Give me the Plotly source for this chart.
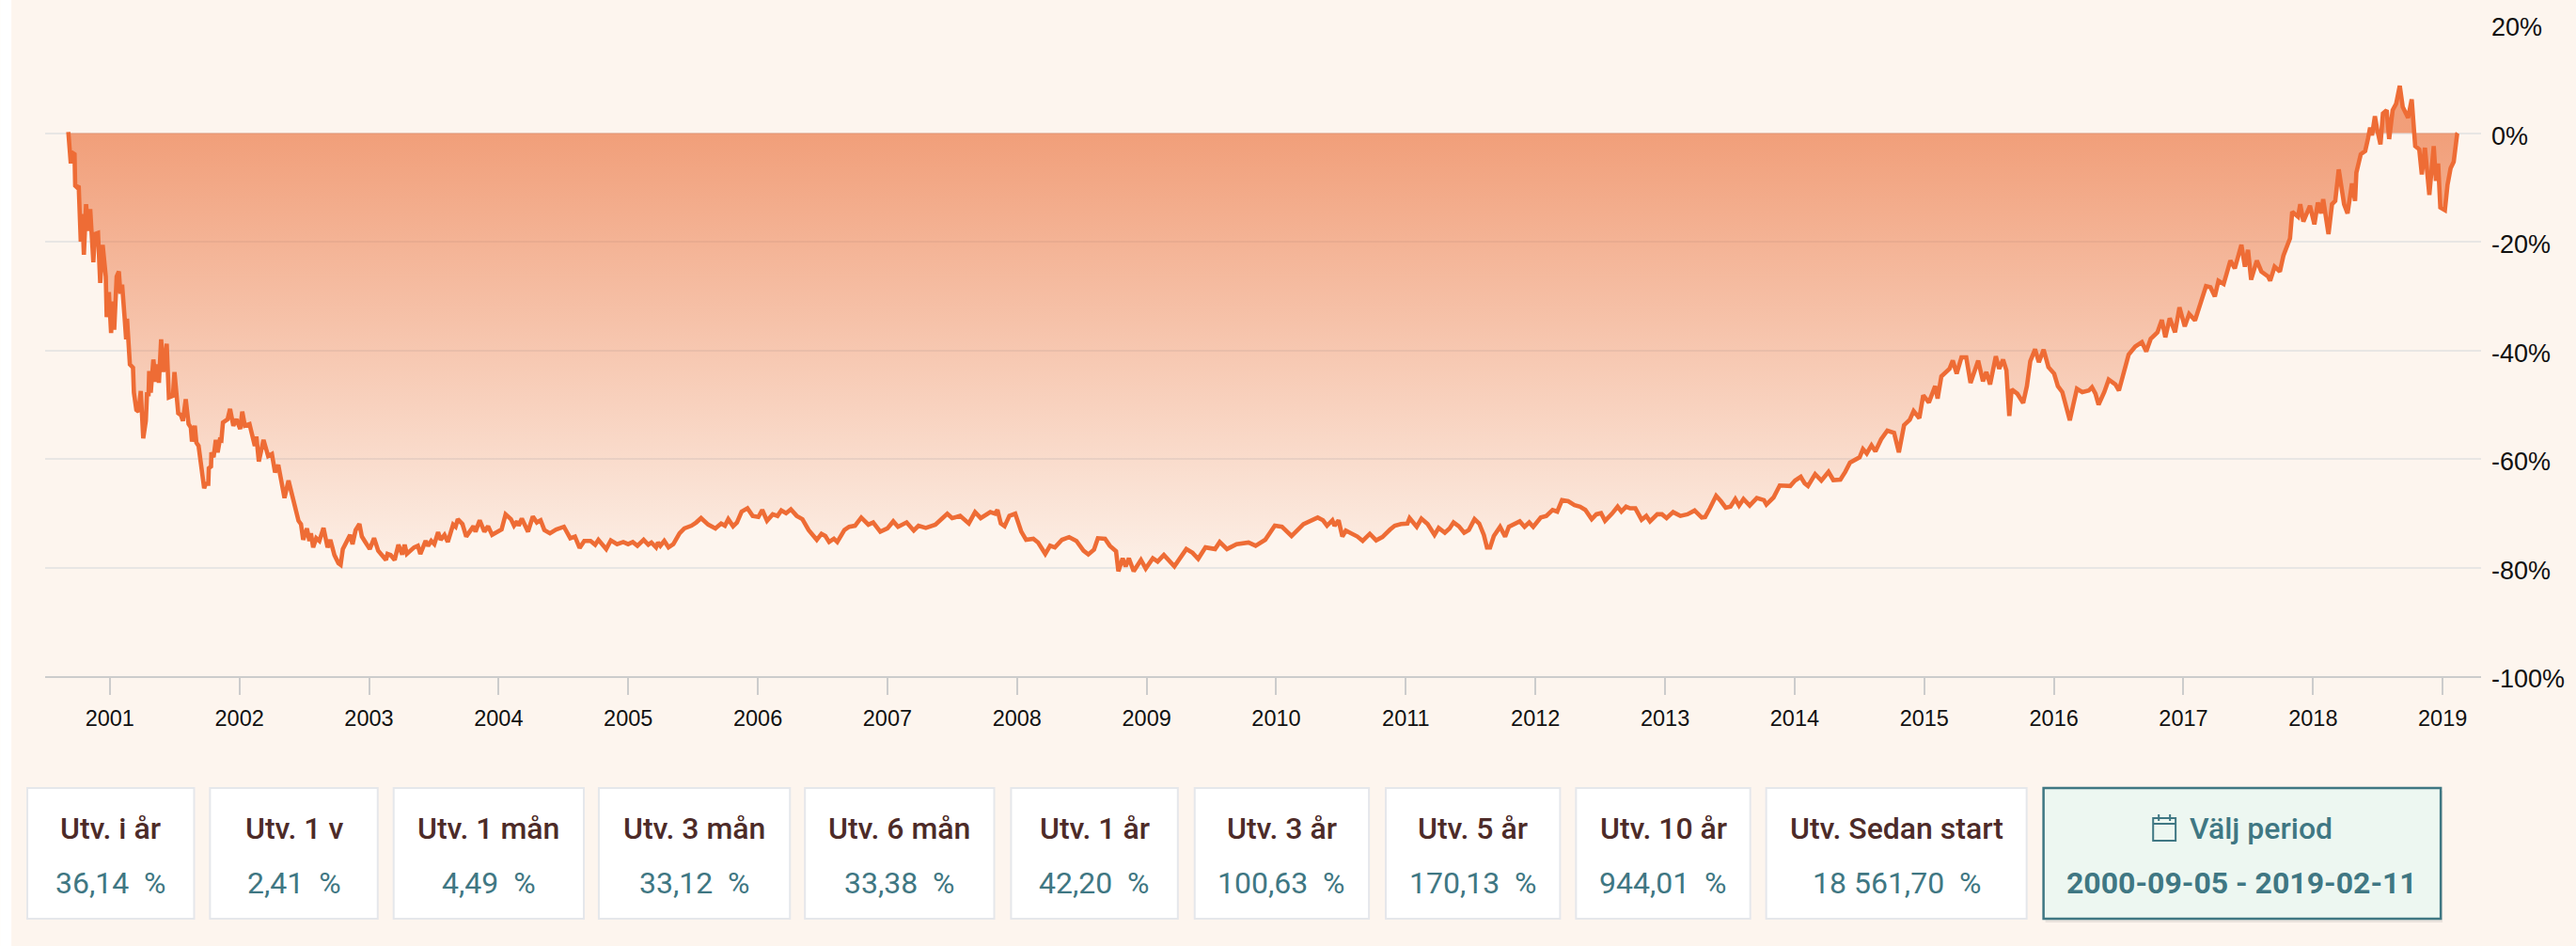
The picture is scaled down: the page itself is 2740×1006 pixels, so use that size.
import plotly.graph_objects as go

# x is decimal year, y is development in percent
years = [
    2000.680, 2000.687, 2000.699, 2000.709, 2000.728, 2000.733, 2000.747, 2000.760, 2000.769, 2000.776,
    2000.788, 2000.800, 2000.817, 2000.832, 2000.849, 2000.861, 2000.873, 2000.885, 2000.909, 2000.926,
    2000.945, 2000.969, 2000.976, 2000.993, 2001.010, 2001.025, 2001.034, 2001.053, 2001.070, 2001.082,
    2001.095, 2001.114, 2001.126, 2001.133, 2001.143, 2001.155, 2001.179, 2001.186, 2001.205, 2001.222,
    2001.239, 2001.258, 2001.278, 2001.287, 2001.299, 2001.304, 2001.316, 2001.336, 2001.355, 2001.367,
    2001.379, 2001.396, 2001.413, 2001.439, 2001.456, 2001.487, 2001.499, 2001.519, 2001.528, 2001.548,
    2001.564, 2001.586, 2001.608, 2001.625, 2001.634, 2001.656, 2001.668, 2001.685, 2001.697, 2001.716,
    2001.728, 2001.740, 2001.760, 2001.764, 2001.781, 2001.784, 2001.801, 2001.818, 2001.832, 2001.849,
    2001.861, 2001.873, 2001.909, 2001.928, 2001.953, 2001.977, 2002.006, 2002.022, 2002.042, 2002.078,
    2002.102, 2002.119, 2002.131, 2002.150, 2002.186, 2002.222, 2002.251, 2002.275, 2002.300, 2002.331,
    2002.348, 2002.379, 2002.408, 2002.432, 2002.456, 2002.475, 2002.492, 2002.521, 2002.540, 2002.552,
    2002.569, 2002.593, 2002.617, 2002.649, 2002.680, 2002.702, 2002.733, 2002.764, 2002.781, 2002.798,
    2002.830, 2002.854, 2002.873, 2002.897, 2002.926, 2002.945, 2002.974, 2003.006, 2003.039, 2003.071,
    2003.099, 2003.131, 2003.143, 2003.167, 2003.198, 2003.227, 2003.256, 2003.275, 2003.292, 2003.348,
    2003.377, 2003.396, 2003.437, 2003.456, 2003.480, 2003.504, 2003.533, 2003.553, 2003.582, 2003.608,
    2003.649, 2003.668, 2003.685, 2003.721, 2003.750, 2003.806, 2003.822, 2003.854, 2003.890, 2003.919,
    2003.950, 2004.023, 2004.054, 2004.095, 2004.119, 2004.143, 2004.155, 2004.179, 2004.227, 2004.264,
    2004.295, 2004.324, 2004.353, 2004.396, 2004.444, 2004.504, 2004.553, 2004.589, 2004.625, 2004.661,
    2004.709, 2004.745, 2004.770, 2004.830, 2004.866, 2004.914, 2004.962, 2004.999, 2005.035, 2005.071,
    2005.119, 2005.155, 2005.179, 2005.215, 2005.230, 2005.248, 2005.278, 2005.311, 2005.348, 2005.396,
    2005.433, 2005.488, 2005.525, 2005.562, 2005.617, 2005.673, 2005.717, 2005.746, 2005.772, 2005.809,
    2005.839, 2005.875, 2005.920, 2005.960, 2006.004, 2006.034, 2006.071, 2006.115, 2006.152, 2006.181,
    2006.218, 2006.255, 2006.300, 2006.344, 2006.392, 2006.455, 2006.491, 2006.521, 2006.550, 2006.587,
    2006.613, 2006.668, 2006.705, 2006.750, 2006.798, 2006.853, 2006.890, 2006.945, 2007.000, 2007.045,
    2007.082, 2007.148, 2007.203, 2007.240, 2007.296, 2007.370, 2007.425, 2007.462, 2007.499, 2007.561,
    2007.628, 2007.676, 2007.720, 2007.775, 2007.794, 2007.831, 2007.849, 2007.875, 2007.904, 2007.941,
    2007.986, 2008.033, 2008.070, 2008.126, 2008.163, 2008.218, 2008.255, 2008.292, 2008.347, 2008.402,
    2008.458, 2008.513, 2008.550, 2008.594, 2008.624, 2008.679, 2008.716, 2008.764, 2008.782, 2008.815,
    2008.838, 2008.863, 2008.900, 2008.956, 2008.993, 2009.048, 2009.085, 2009.133, 2009.214, 2009.306,
    2009.354, 2009.398, 2009.454, 2009.528, 2009.564, 2009.620, 2009.694, 2009.786, 2009.841, 2009.915,
    2009.989, 2010.044, 2010.118, 2010.210, 2010.265, 2010.320, 2010.361, 2010.392, 2010.433, 2010.450,
    2010.481, 2010.510, 2010.537, 2010.578, 2010.626, 2010.667, 2010.722, 2010.771, 2010.819, 2010.879,
    2010.915, 2010.963, 2011.012, 2011.029, 2011.084, 2011.120, 2011.168, 2011.221, 2011.253, 2011.301,
    2011.337, 2011.368, 2011.409, 2011.450, 2011.486, 2011.530, 2011.566, 2011.602, 2011.626, 2011.650,
    2011.679, 2011.727, 2011.766, 2011.795, 2011.879, 2011.916, 2011.952, 2011.983, 2012.041, 2012.084,
    2012.132, 2012.168, 2012.205, 2012.253, 2012.301, 2012.344, 2012.385, 2012.434, 2012.470, 2012.506,
    2012.537, 2012.590, 2012.634, 2012.663, 2012.699, 2012.730, 2012.771, 2012.819, 2012.855, 2012.884,
    2012.940, 2012.976, 2013.012, 2013.062, 2013.118, 2013.173, 2013.228, 2013.283, 2013.309, 2013.346,
    2013.394, 2013.431, 2013.468, 2013.505, 2013.542, 2013.571, 2013.605, 2013.653, 2013.708, 2013.763,
    2013.782, 2013.837, 2013.885, 2013.966, 2014.003, 2014.047, 2014.077, 2014.103, 2014.158, 2014.206,
    2014.261, 2014.298, 2014.353, 2014.390, 2014.427, 2014.501, 2014.527, 2014.556, 2014.593, 2014.623,
    2014.667, 2014.715, 2014.767, 2014.804, 2014.844, 2014.888, 2014.918, 2014.962, 2014.992, 2015.036,
    2015.084, 2015.103, 2015.132, 2015.195, 2015.220, 2015.250, 2015.287, 2015.324, 2015.357, 2015.416,
    2015.453, 2015.479, 2015.508, 2015.552, 2015.578, 2015.608, 2015.634, 2015.656, 2015.674, 2015.718,
    2015.763, 2015.792, 2015.818, 2015.855, 2015.884, 2015.921, 2015.958, 2016.002, 2016.031, 2016.065,
    2016.092, 2016.123, 2016.150, 2016.178, 2016.219, 2016.270, 2016.294, 2016.321, 2016.345, 2016.389,
    2016.423, 2016.475, 2016.502, 2016.543, 2016.577, 2016.628, 2016.679, 2016.713, 2016.747, 2016.799,
    2016.833, 2016.860, 2016.894, 2016.935, 2016.969, 2017.010, 2017.044, 2017.089, 2017.140, 2017.174,
    2017.208, 2017.242, 2017.270, 2017.310, 2017.362, 2017.396, 2017.447, 2017.474, 2017.498, 2017.522,
    2017.566, 2017.601, 2017.652, 2017.669, 2017.703, 2017.744, 2017.771, 2017.822, 2017.839, 2017.884,
    2017.901, 2017.925, 2017.976, 2018.010, 2018.037, 2018.061, 2018.078, 2018.095, 2018.119, 2018.146,
    2018.171, 2018.198, 2018.239, 2018.266, 2018.300, 2018.324, 2018.334, 2018.368, 2018.402, 2018.424,
    2018.440, 2018.455, 2018.477, 2018.496, 2018.520, 2018.539, 2018.568, 2018.587, 2018.614, 2018.641,
    2018.669, 2018.692, 2018.733, 2018.761, 2018.778, 2018.788, 2018.819, 2018.839, 2018.863, 2018.897,
    2018.931, 2018.948, 2018.965, 2018.982, 2019.017, 2019.037, 2019.061, 2019.085, 2019.112, 2019.115,
]
values = [
    0.2, -3.0, -5.6, -3.6, -3.9, -9.7, -10.0, -9.7, -13.7, -20.0,
    -14.9, -22.4, -13.1, -18.0, -14.0, -18.0, -23.8, -18.6, -18.4, -27.6,
    -20.6, -26.4, -33.9, -29.3, -36.8, -31.0, -36.2, -26.4, -25.5, -29.6,
    -27.9, -33.9, -38.0, -34.2, -38.0, -42.6, -43.2, -47.8, -51.0, -51.3,
    -47.5, -56.2, -53.0, -48.1, -48.1, -43.8, -47.8, -41.7, -45.8, -42.6,
    -46.0, -38.0, -44.0, -38.8, -48.7, -48.4, -44.0, -48.4, -51.6, -51.9,
    -53.0, -49.0, -53.6, -54.2, -56.8, -53.9, -57.0, -57.6, -60.0, -62.3,
    -65.4, -64.6, -64.6, -61.7, -61.4, -58.8, -59.7, -56.5, -58.8, -56.5,
    -56.6, -53.3, -52.7, -50.8, -53.9, -52.7, -54.5, -51.3, -53.9, -53.6,
    -55.9, -57.6, -55.9, -60.5, -56.5, -59.5, -59.1, -62.5, -61.1, -65.1,
    -67.2, -64.0, -67.1, -69.1, -71.4, -72.0, -74.9, -72.8, -75.1, -73.7,
    -76.3, -74.6, -75.1, -72.7, -76.3, -74.9, -77.7, -79.2, -79.5, -76.6,
    -75.1, -74.0, -75.7, -73.1, -72.0, -74.3, -75.4, -76.6, -74.6, -76.9,
    -77.7, -78.6, -77.5, -77.7, -78.6, -75.8, -77.6, -75.8, -77.5, -76.3,
    -76.0, -77.5, -75.1, -76.0, -75.1, -75.7, -73.5, -74.9, -74.0, -75.3,
    -72.1, -72.5, -71.1, -72.0, -74.3, -72.4, -73.4, -71.3, -73.4, -72.4,
    -74.0, -73.0, -70.2, -71.1, -72.3, -71.5, -72.3, -71.0, -73.4, -70.6,
    -71.7, -71.3, -73.1, -73.7, -73.0, -72.5, -74.6, -74.3, -76.4, -75.1,
    -75.1, -75.8, -74.9, -76.6, -75.0, -75.7, -75.3, -75.7, -75.3, -76.0,
    -74.9, -75.8, -75.4, -76.3, -75.4, -76.0, -75.1, -76.3, -75.7, -73.7,
    -72.8, -72.3, -71.7, -70.9, -72.1, -72.8, -71.9, -72.3, -71.1, -72.4,
    -71.7, -69.7, -69.1, -70.5, -70.7, -69.4, -71.4, -70.2, -70.5, -69.5,
    -70.0, -69.3, -70.5, -71.1, -73.1, -74.9, -73.8, -74.2, -75.3, -74.7,
    -75.3, -73.1, -72.5, -72.3, -70.8, -72.1, -71.7, -73.4, -72.8, -71.5,
    -72.5, -71.7, -73.2, -72.3, -72.7, -72.1, -70.9, -70.1, -70.9, -70.5,
    -71.9, -69.8, -70.9, -70.2, -69.8, -70.1, -69.4, -71.9, -72.4, -70.5,
    -70.1, -73.4, -74.9, -74.7, -75.4, -77.5, -76.0, -76.3, -74.9, -74.4,
    -75.1, -76.9, -77.6, -76.7, -74.6, -74.7, -76.0, -77.0, -80.7, -78.3,
    -79.8, -78.3, -80.7, -78.6, -80.2, -78.3, -78.9, -77.7, -79.8, -76.6,
    -77.3, -78.4, -76.3, -76.6, -75.3, -76.6, -75.7, -75.4, -76.0, -74.9,
    -72.3, -72.5, -74.2, -72.0, -71.3, -70.8, -71.3, -72.3, -71.3, -72.3,
    -71.3, -74.3, -73.2, -73.7, -74.3, -75.1, -73.8, -75.0, -74.4, -73.0,
    -72.3, -72.0, -71.9, -70.9, -72.5, -71.0, -72.0, -74.0, -72.7, -73.6,
    -72.8, -71.7, -72.4, -73.6, -73.1, -71.1, -71.9, -74.0, -76.3, -76.3,
    -74.2, -72.5, -74.3, -72.5, -71.5, -72.5, -71.7, -72.5, -70.8, -70.5,
    -69.4, -69.7, -67.6, -67.8, -68.5, -68.8, -69.4, -71.1, -70.2, -70.0,
    -71.4, -70.1, -68.8, -69.7, -68.8, -69.1, -69.1, -71.2, -70.5, -71.5,
    -70.2, -70.2, -70.9, -69.8, -70.5, -70.2, -69.5, -70.8, -70.7, -69.1,
    -66.8, -67.8, -69.0, -68.8, -67.4, -68.6, -67.4, -68.6, -67.2, -67.6,
    -68.4, -67.1, -64.9, -65.0, -64.0, -63.3, -64.5, -65.0, -62.8, -64.0,
    -62.4, -63.9, -63.8, -62.4, -60.7, -59.7, -58.2, -59.0, -57.5, -58.6,
    -56.4, -54.8, -55.2, -58.8, -53.8, -52.8, -51.2, -52.5, -48.3, -49.6,
    -46.6, -48.9, -44.8, -43.4, -41.9, -44.3, -41.3, -41.3, -46.0, -41.9,
    -45.7, -44.0, -46.3, -41.1, -43.4, -41.7, -43.7, -52.1, -47.2, -48.0,
    -49.7, -46.6, -42.0, -39.8, -42.2, -39.9, -43.1, -44.3, -46.6, -47.7,
    -50.0, -52.9, -50.0, -47.1, -47.7, -47.4, -46.8, -48.0, -50.0, -47.7,
    -45.4, -46.3, -47.4, -43.7, -40.8, -39.3, -38.5, -40.2, -37.9, -36.7,
    -34.4, -37.6, -34.1, -36.7, -32.1, -35.6, -33.3, -34.5, -30.4, -28.2,
    -28.4, -30.1, -27.2, -27.8, -23.5, -24.9, -20.6, -24.6, -21.5, -27.0,
    -23.5, -25.5, -26.4, -27.2, -24.6, -25.5, -22.6, -19.4, -14.5, -15.4,
    -13.1, -16.3, -13.4, -16.8, -12.8, -14.8, -12.2, -14.8, -18.6, -13.1,
    -12.5, -6.7, -13.1, -14.8, -9.3, -12.5, -7.3, -3.9, -3.3, -1.0,
    1.0, -0.4, 3.1, 0.5, -2.1, 3.6, 4.2, -1.1, 4.2, 5.4,
    8.7, 4.8, 2.8, 6.2, 0.2, -2.4, -3.0, -7.6, -2.7, -11.4,
    -2.4, -8.8, -5.6, -13.7, -14.2, -9.6, -6.5, -5.3, -0.1, 0.0,
]

year_ticks = list(range(2001, 2020))
pct_ticks = [-100, -80, -60, -40, -20, 0, 20]
pct_labels = ["-100%", "-80%", "-60%", "-40%", "-20%", "0%", "20%"]

card_titles = ["Utv. i år", "Utv. 1 v", "Utv. 1 mån", "Utv. 3 mån", "Utv. 6 mån", "Utv. 1 år",
               "Utv. 3 år", "Utv. 5 år", "Utv. 10 år", "Utv. Sedan start"]
card_values = ["36,14", "2,41", "4,49", "33,12", "33,38", "42,20",
               "100,63", "170,13", "944,01", "18 561,70"]
period_title = "Välj period"
period_range = "2000-09-05 - 2019-02-11"

WIDTH, HEIGHT = 2740, 1006
PLOT_L, PLOT_R, PLOT_T, PLOT_B = 48, 2648, 26, 719

ORANGE = "#EE6C35"
TEAL = "#3F7783"
BROWN = "#4D2B28"
BG = "#FDF5EE"
FONT_UI = "Roboto"
FONT_AXIS = "Liberation Sans"

# left/right edge of the boxes under the chart
card_edges = [(29, 207), (224, 403), (420, 623), (639, 843), (859, 1061),
              (1079, 1257), (1275, 1461), (1479, 1665), (1682, 1868), (1885, 2163)]
CARD_TOP, CARD_BOTTOM = 838, 977
TITLE_Y, VALUE_Y = 881, 939


def px(x):
    return (x - PLOT_L) / (PLOT_R - PLOT_L)


def py(y):
    return (PLOT_B - y) / (PLOT_B - PLOT_T)


def box(x0, y0, x1, y1, **kw):
    return dict(type="rect", xref="paper", yref="paper", x0=px(x0), x1=px(x1), y0=py(y1), y1=py(y0), **kw)


def label(x, y, text, color, size=32, weight=400):
    return dict(xref="paper", yref="paper", x=px(x), y=py(y), text=text, showarrow=False,
                xanchor="center", yanchor="middle",
                font=dict(family=FONT_UI, size=size, color=color, weight=weight))


fig = go.Figure()
fig.add_trace(go.Scatter(
    x=years, y=values, mode="lines",
    line=dict(color=ORANGE, width=4.6),
    fill="tozeroy",
    fillgradient=dict(type="vertical", start=-85, stop=0,
                      colorscale=[[0, "rgba(234,108,53,0)"], [1, "rgba(234,108,53,0.63)"]]),
    hoverinfo="skip",
))

shapes = [dict(type="rect", xref="paper", yref="paper", x0=px(0), x1=px(12), y0=py(HEIGHT), y1=py(0),
               fillcolor="white", line_width=0)]
annotations = []

for (x0, x1), title, value in zip(card_edges, card_titles, card_values):
    shapes.append(box(x0, CARD_TOP, x1, CARD_BOTTOM, fillcolor="white", line=dict(color="#E5E7EB", width=2)))
    mid = (x0 + x1) / 2
    annotations.append(label(mid, TITLE_Y, title, BROWN, weight=500))
    annotations.append(label(mid, VALUE_Y, value + "\u00a0\u00a0%", TEAL))

# the highlighted period box, with a small calendar icon
shapes.append(box(2183, 841, 2607, 981, fillcolor="rgba(0,0,0,0.07)", line_width=0))
shapes.append(box(2181, 838, 2605, 977, fillcolor="#EDF7F1", line=dict(color=TEAL, width=2.5)))
icon = dict(color=TEAL, width=2)
shapes.append(box(2298, 870, 2322, 894, line=icon, fillcolor="rgba(0,0,0,0)"))
shapes.append(dict(type="line", xref="paper", yref="paper", x0=px(2298), x1=px(2322), y0=py(876), y1=py(876), line=icon))
shapes.append(dict(type="line", xref="paper", yref="paper", x0=px(2304), x1=px(2304), y0=py(866), y1=py(873), line=icon))
shapes.append(dict(type="line", xref="paper", yref="paper", x0=px(2316), x1=px(2316), y0=py(866), y1=py(873), line=icon))
annotations.append(label(2413, TITLE_Y, period_title, TEAL, weight=500))
annotations.append(label(2393, VALUE_Y, period_range, TEAL, weight=700))

fig.update_layout(
    width=WIDTH, height=HEIGHT,
    margin=dict(l=PLOT_L, r=WIDTH - PLOT_R, t=PLOT_T, b=HEIGHT - PLOT_B, pad=0),
    paper_bgcolor=BG, plot_bgcolor=BG,
    showlegend=False,
    shapes=shapes, annotations=annotations,
    xaxis=dict(
        range=[2000.501, 2019.296],
        tickvals=year_ticks, tickformat="d",
        showgrid=False, zeroline=False,
        showline=True, linecolor="#CCCCCC", linewidth=2,
        ticks="outside", ticklen=18, tickwidth=1.5, tickcolor="#CCCCCC",
        ticklabelstandoff=5,
        tickfont=dict(family=FONT_AXIS, size=23.5, color="#111111"),
    ),
    yaxis=dict(
        side="right", range=[-100, 20],
        tickvals=pct_ticks, ticktext=pct_labels,
        showgrid=True, gridcolor="#E8E6E4", gridwidth=2,
        zeroline=False, showline=False, ticks="",
        ticklabelstandoff=10, ticklabelshift=3,
        tickfont=dict(family=FONT_AXIS, size=27, color="#111111"),
    ),
)

fig.write_html("out.html", config=dict(displayModeBar=False),
               post_script="document.body.style.margin='0';document.documentElement.style.overflow='hidden';")
